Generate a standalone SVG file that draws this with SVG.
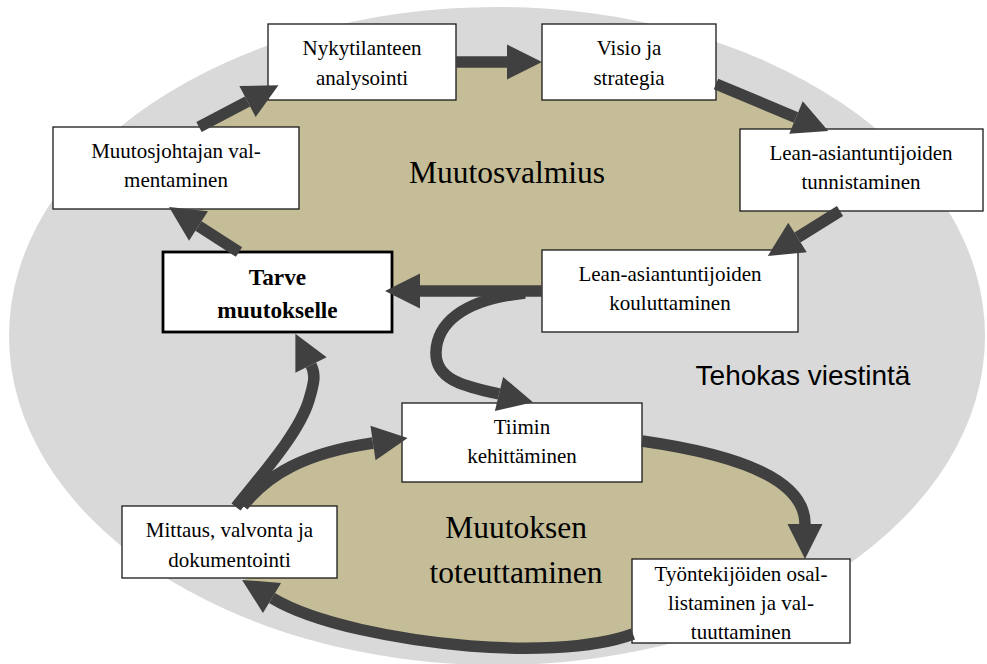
<svg xmlns="http://www.w3.org/2000/svg" width="987" height="664" viewBox="0 0 987 664">
  <style>
    .box { fill: #ffffff; stroke: #1a1a1a; stroke-width: 1.3; }
    .box-strong { fill: #ffffff; stroke: #000000; stroke-width: 2.8; }
    .lbl { font-family: "Liberation Serif", "Times New Roman", serif; font-size: 21px; fill: #000; text-anchor: middle; }
    .lbl-bold { font-family: "Liberation Serif", "Times New Roman", serif; font-size: 23.3px; font-weight: bold; fill: #000; text-anchor: middle; }
    .area { font-family: "Liberation Serif", "Times New Roman", serif; font-size: 31.5px; fill: #000; text-anchor: middle; }
    .comm { font-family: "Liberation Sans", Arial, sans-serif; font-size: 28px; fill: #000; text-anchor: middle; }
    .flow { fill: none; stroke: #404040; stroke-width: 11.5; marker-end: url(#head); }
    .zone { fill: #C4BD97; }
  </style>
  <defs>
    <marker id="head" viewBox="0 -18 35 36" markerWidth="35" markerHeight="36" refX="0" refY="0" orient="auto" markerUnits="userSpaceOnUse" overflow="visible">
      <path d="M0,-17.5 L35,0 L0,17.5 Z" fill="#404040"/>
    </marker>
  </defs>

  <!-- communication backdrop -->
  <ellipse id="backdrop" cx="497" cy="336" rx="488" ry="329" fill="#D9D9D9"/>

  <!-- readiness zone (upper loop) -->
  <path id="zone-readiness" class="zone" d="M239,252 L198,226 L198,127 L247,101 L300,70 L456,62 L542,62 L716,84 L796,117 L800,160 L840,211 L797,237 L770,252 L700,280 L542,291 L392,291 L392,252 Z"/>

  <!-- implementation zone (lower loop) -->
  <path id="zone-implementation" class="zone" d="M243,506 C268,474 305,453 373,443 L402,440 L402,482 L642,482 L642,441 C740,455 805,480 805,540 L805,559 L632,559 L632,634 C590,650 520,650 470,646 C400,640 315,624 272,598 L245,580 L245,506 Z"/>

  <!-- nodes -->
  <g id="node-nykytilanteen">
    <rect class="box" x="268" y="24" width="188" height="76"/>
    <text class="lbl" x="362" y="55">Nykytilanteen</text>
    <text class="lbl" x="362" y="85">analysointi</text>
  </g>
  <g id="node-visio">
    <rect class="box" x="542" y="24" width="174" height="76"/>
    <text class="lbl" x="629" y="55">Visio ja</text>
    <text class="lbl" x="629" y="85">strategia</text>
  </g>
  <g id="node-muutosjohtajan">
    <rect class="box" x="53" y="127" width="246" height="82"/>
    <text class="lbl" x="176" y="158">Muutosjohtajan val-</text>
    <text class="lbl" x="176" y="187">mentaminen</text>
  </g>
  <g id="node-lean-tunnistaminen">
    <rect class="box" x="740" y="129" width="243" height="82"/>
    <text class="lbl" x="861" y="160">Lean-asiantuntijoiden</text>
    <text class="lbl" x="861" y="189">tunnistaminen</text>
  </g>
  <g id="node-tarve">
    <rect class="box-strong" x="163" y="252" width="229" height="80"/>
    <text class="lbl-bold" x="277.5" y="285">Tarve</text>
    <text class="lbl-bold" x="277.5" y="318">muutokselle</text>
  </g>
  <g id="node-lean-kouluttaminen">
    <rect class="box" x="542" y="250" width="256" height="82"/>
    <text class="lbl" x="670" y="281">Lean-asiantuntijoiden</text>
    <text class="lbl" x="670" y="310">kouluttaminen</text>
  </g>
  <g id="node-tiimin">
    <rect class="box" x="402" y="403" width="240" height="79"/>
    <text class="lbl" x="522" y="434">Tiimin</text>
    <text class="lbl" x="522" y="463">kehittäminen</text>
  </g>
  <g id="node-mittaus">
    <rect class="box" x="122" y="506" width="215" height="72"/>
    <text class="lbl" x="229.5" y="537">Mittaus, valvonta ja</text>
    <text class="lbl" x="229.5" y="567">dokumentointi</text>
  </g>
  <g id="node-tyontekijoiden">
    <rect class="box" x="632" y="559" width="218" height="84"/>
    <text class="lbl" x="741" y="581">Työntekijöiden osal-</text>
    <text class="lbl" x="741" y="610">listaminen ja val-</text>
    <text class="lbl" x="741" y="639">tuuttaminen</text>
  </g>

  <!-- flow arrows -->
  <g id="connectors">
    <path class="flow" d="M239,252 L198.5,226"/>
    <path class="flow" d="M199,127 L247.5,101.5"/>
    <path class="flow" d="M456,62 L507,62"/>
    <path class="flow" d="M716,84 L796,117.5"/>
    <path class="flow" d="M840,211 L797.5,237.5"/>
    <path class="flow" d="M542,291 L420,291"/>
    <path class="flow" d="M525,293 C460,300 437,325 436,352 C435,382 470,387 499,394"/>
    <path class="flow" d="M236,507 C270,465 300,430 309,400 C314,383 316,375 311,365"/>
    <path class="flow" d="M243,506 C268,474 305,453 373,443"/>
    <path class="flow" d="M642,441 C740,455 805,480 805,524"/>
    <path class="flow" d="M633,634 C590,650 520,650 470,646 C400,640 315,624 272,598"/>
  </g>

  <!-- zone titles -->
  <g id="label-readiness">
    <text class="area" x="507" y="183">Muutosvalmius</text>
  </g>
  <g id="label-implementation">
    <text class="area" x="516" y="538">Muutoksen</text>
    <text class="area" x="516" y="583">toteuttaminen</text>
  </g>
  <g id="label-communication">
    <text class="comm" x="803" y="385">Tehokas viestintä</text>
  </g>
</svg>
